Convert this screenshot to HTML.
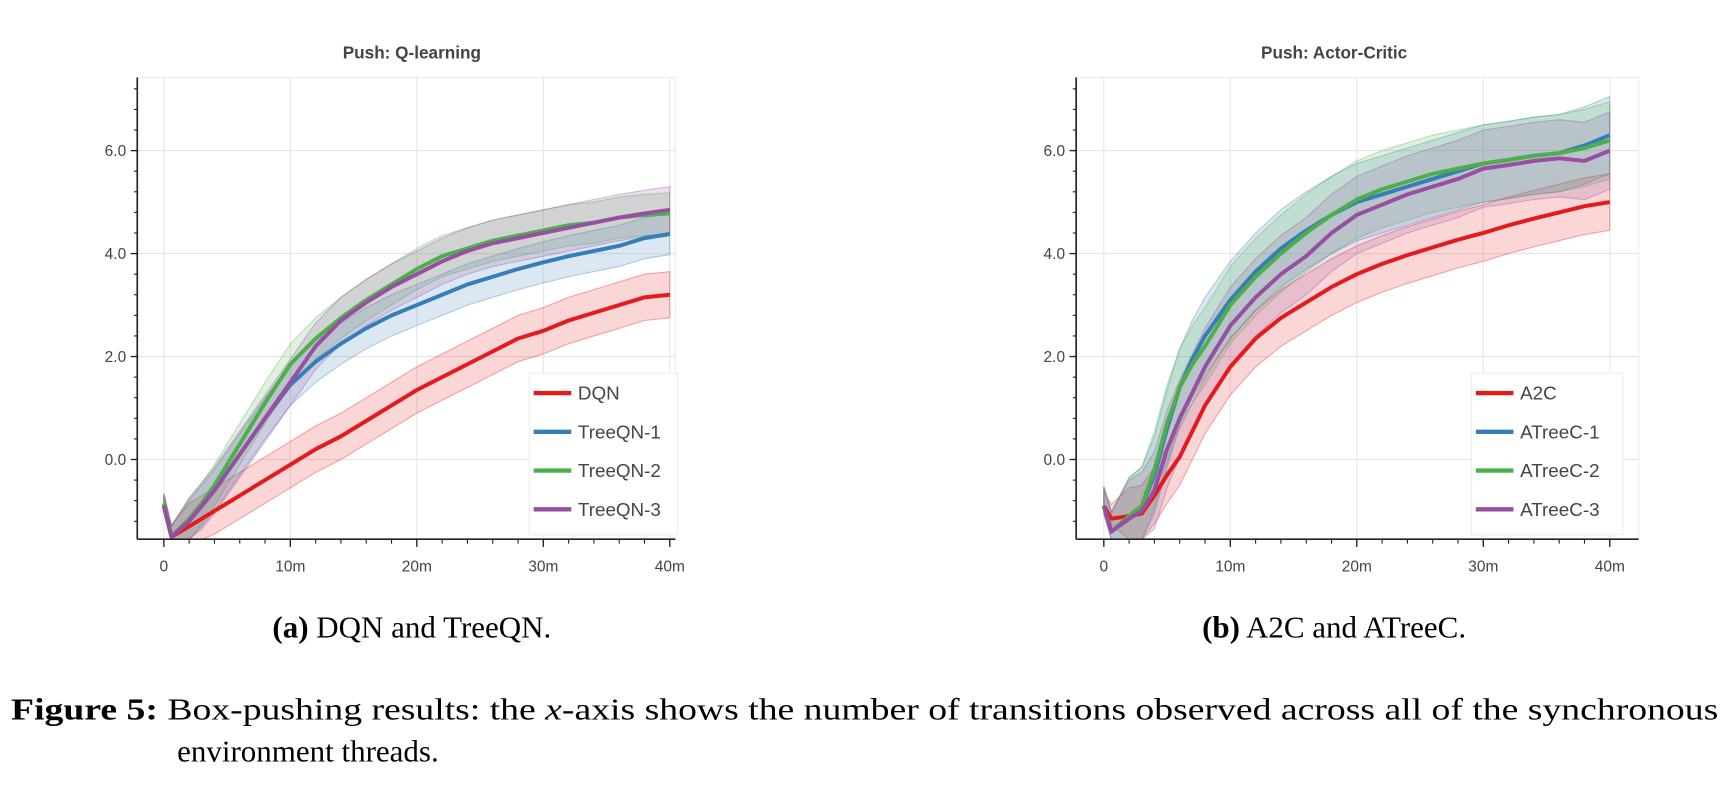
<!DOCTYPE html>
<html><head><meta charset="utf-8"><style>
html,body{margin:0;padding:0;background:#fff;width:1736px;height:795px;overflow:hidden}
svg{display:block}
.tk{font-family:"Liberation Sans",sans-serif;font-size:14px;fill:#444}
.ttl{font-family:"Liberation Sans",sans-serif;font-size:15.5px;font-weight:bold;fill:#444}
.lg{font-family:"Liberation Sans",sans-serif;font-size:17px;fill:#444}
.cap{font-family:"Liberation Serif","Times New Roman",serif;font-size:28px;fill:#000}
</style></head><body>
<svg id="fig" width="1736" height="795" viewBox="0 0 1568 718">
<text class="cap" x="372" y="576" text-anchor="middle"><tspan font-weight="bold">(a)</tspan> DQN and TreeQN.</text>
<text class="cap" x="1205" y="576" text-anchor="middle"><tspan font-weight="bold">(b)</tspan> A2C and ATreeC.</text>
<text class="cap" x="10" y="650" textLength="1542" lengthAdjust="spacingAndGlyphs"><tspan font-weight="bold">Figure 5:</tspan> Box-pushing results: the <tspan font-style="italic">x</tspan>-axis shows the number of transitions observed across all of the synchronous</text>
<text class="cap" x="160" y="688">environment threads.</text>
</svg>
<script>
const steps=[0,0.6,2,3,4,5,6,7,8,10,12,14,16,18,20,22,24,26,28,30,32,34,36,38,40];
const xTickVals=[0,10,20,30,40];
const xTickLabels=["0","10m","20m","30m","40m"];
const yTickVals=[0,2,4,6];
const yTickLabels=["0.0","2.0","4.0","6.0"];
const dqn=[-0.9,-1.5,-1.3,-1.15,-1.0,-0.85,-0.7,-0.55,-0.4,-0.1,0.2,0.45,0.75,1.05,1.35,1.6,1.85,2.1,2.35,2.5,2.7,2.85,3.0,3.15,3.2];
const treeqn1=[-0.9,-1.5,-1.2,-0.9,-0.6,-0.25,0.1,0.45,0.8,1.45,1.9,2.25,2.55,2.8,3.0,3.2,3.4,3.55,3.7,3.83,3.95,4.05,4.15,4.3,4.38];
const treeqn2=[-0.85,-1.5,-1.15,-0.85,-0.5,-0.1,0.3,0.7,1.1,1.85,2.35,2.75,3.1,3.4,3.7,3.95,4.1,4.25,4.35,4.45,4.55,4.6,4.7,4.75,4.78];
const treeqn3=[-0.9,-1.5,-1.2,-0.9,-0.6,-0.25,0.1,0.45,0.8,1.5,2.2,2.7,3.05,3.35,3.6,3.85,4.05,4.2,4.3,4.4,4.5,4.6,4.7,4.78,4.85];
const a2c=[-0.9,-1.15,-1.1,-1.05,-0.7,-0.3,0.05,0.55,1.05,1.8,2.35,2.75,3.05,3.35,3.6,3.8,3.97,4.12,4.27,4.4,4.55,4.68,4.8,4.92,5.0];
const atreec1=[-0.9,-1.4,-1.1,-0.9,-0.3,0.6,1.4,1.95,2.4,3.1,3.65,4.1,4.45,4.75,5.0,5.15,5.3,5.45,5.6,5.75,5.82,5.9,5.95,6.1,6.3];
const atreec2=[-0.9,-1.4,-1.1,-0.9,-0.2,0.7,1.4,1.85,2.2,3.0,3.55,4.0,4.4,4.75,5.05,5.25,5.4,5.55,5.65,5.75,5.82,5.9,5.95,6.05,6.2];
const atreec3=[-0.9,-1.4,-1.15,-1.0,-0.6,0.2,0.8,1.3,1.8,2.6,3.15,3.6,3.95,4.4,4.75,4.95,5.15,5.3,5.45,5.65,5.72,5.8,5.85,5.8,6.0];
const spreadsA=[0.45,0.4,0.4,0.45];
const spreadsB=[0.55,0.75,0.75,0.75];
const namesA=["DQN","TreeQN-1","TreeQN-2","TreeQN-3"];
const namesB=["A2C","ATreeC-1","ATreeC-2","ATreeC-3"];
const colors=["#e41a1c","#377eb8","#4daf4a","#984ea3"];

const NS="http://www.w3.org/2000/svg";
const svg=document.getElementById('fig');
function mk(tag,attrs,parent){const e=document.createElementNS(NS,tag);for(const k in attrs)e.setAttribute(k,attrs[k]);(parent||svg).appendChild(e);return e;}

function chart(cfg){
  const g=mk('g',{});
  
  
  const x=v=>cfg.x0+(cfg.x40-cfg.x0)*v/40;
  const y=v=>415-46.5*v;
  const top=70,bot=487;
  mk('rect',{x:cfg.ax,y:top,width:cfg.right-cfg.ax,height:bot-top,fill:'#fff',stroke:'#ececec','stroke-width':1},g);
  xTickVals.forEach(v=>{const l=mk('line',{x1:x(v),x2:x(v),y1:top,y2:bot,stroke:'#e6e6e6','stroke-width':1},g);
    });
  yTickVals.forEach(v=>{const l=mk('line',{x1:cfg.ax,x2:cfg.right,y1:y(v),y2:y(v),stroke:'#e6e6e6','stroke-width':1},g);
    });
  const sers=cfg.series;
  sers.forEach((s,i)=>{
    let d='';steps.forEach((t,j)=>{d+=(j?'L':'M')+x(t)+','+y(Math.min(7.4,s[j]+cfg.spreads[i]*(j<2?0.5:1)));});
    for(let j=steps.length-1;j>=0;j--)d+='L'+x(steps[j])+','+y(Math.max(-1.55,s[j]-cfg.spreads[i]*(j<2?0.2:1)));
    const b=mk('path',{d:d+'Z',fill:colors[i],'fill-opacity':0.18,stroke:colors[i],'stroke-opacity':0.35,'stroke-width':1},g);
    
    
  });
  sers.forEach((s,i)=>{
    let d='';steps.forEach((t,j)=>{d+=(j?'L':'M')+x(t)+','+y(Math.max(-1.55,s[j]));});
    const p=mk('path',{d:d,fill:'none',stroke:colors[i],'stroke-width':3.6,'stroke-linejoin':'round'},g);
    
    
  });
  mk('line',{x1:cfg.ax,x2:cfg.ax,y1:top,y2:bot,stroke:'#222','stroke-width':1.5},g);
  mk('line',{x1:cfg.ax,x2:cfg.right,y1:bot,y2:bot,stroke:'#222','stroke-width':1.5},g);
  for(let v=-1.2;v<=7.3;v+=0.4){mk('line',{x1:cfg.ax-3,x2:cfg.ax,y1:y(v),y2:y(v),stroke:'#222','stroke-width':1},g);}
  for(let v=0;v<=40;v+=2){mk('line',{x1:x(v),x2:x(v),y1:bot,y2:bot+4,stroke:'#222','stroke-width':1},g);}
  yTickVals.forEach((v,i)=>{mk('line',{x1:cfg.ax-6,x2:cfg.ax,y1:y(v),y2:y(v),stroke:'#222','stroke-width':1.2},g);
    const t=mk('text',{x:cfg.ax-10,y:y(v)+5,'text-anchor':'end',class:'tk'},g);t.textContent=yTickLabels[i];
    });
  xTickVals.forEach((v,i)=>{mk('line',{x1:x(v),x2:x(v),y1:bot,y2:bot+7,stroke:'#222','stroke-width':1.2},g);
    const t=mk('text',{x:x(v),y:bot+29,'text-anchor':'middle',class:'tk'},g);t.textContent=xTickLabels[i];
    });
  const tt=mk('text',{x:cfg.tx,y:53,'text-anchor':'middle',class:'ttl'},g);tt.textContent=cfg.title;
  
  const lg=mk('g',{},g);
  
  
  mk('rect',{x:cfg.lx,y:337,width:cfg.lw,height:146,fill:'#fff','fill-opacity':0.95,stroke:'#eee'},lg);
  cfg.names.forEach((n,i)=>{const yy=355+35*i;
    mk('line',{x1:cfg.lx+4,x2:cfg.lx+38,y1:yy,y2:yy,stroke:colors[i],'stroke-width':4},lg);
    const t=mk('text',{x:cfg.lx+44,y:yy+6,class:'lg'},lg);t.textContent=n;
    });
}
chart({id:'chart-q-learning',title:'Push: Q-learning',ax:124,right:610,x0:148,x40:605,tx:372,series:[dqn,treeqn1,treeqn2,treeqn3],spreads:spreadsA,names:namesA,lx:478,lw:134});
chart({id:'chart-actor-critic',title:'Push: Actor-Critic',ax:972,right:1480,x0:997,x40:1454,tx:1205,series:[a2c,atreec1,atreec2,atreec3],spreads:spreadsB,names:namesB,lx:1329,lw:137});
</script>
</body></html>
